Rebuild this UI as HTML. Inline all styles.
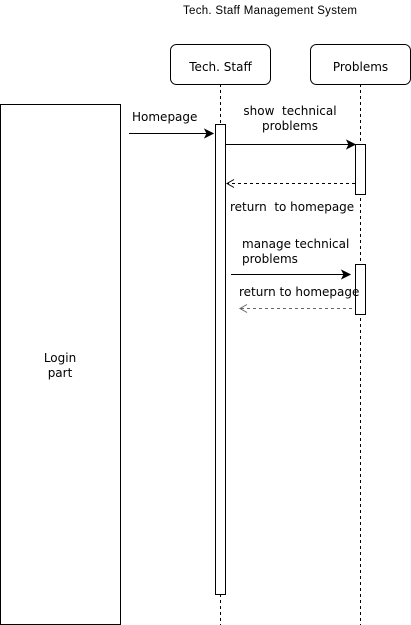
<!DOCTYPE html>
<html><head><meta charset="utf-8"><style>
html,body{margin:0;padding:0;background:#fff;}
svg{display:block;font-family:"DejaVu Sans",Verdana,sans-serif;}
text{white-space:pre;}
</style></head><body>
<svg width="411" height="625" viewBox="0 0 411 625" xmlns="http://www.w3.org/2000/svg">
<text x="183" y="14" font-size="11.5" textLength="174" fill="#000" font-family="Liberation Sans, Arial, sans-serif">Tech. Staff Management System</text>
<!-- lifelines -->
<line x1="220.5" y1="84" x2="220.5" y2="625" stroke="#000" stroke-dasharray="3,3"/>
<line x1="360.5" y1="84" x2="360.5" y2="625" stroke="#000" stroke-dasharray="3,3"/>
<!-- participant boxes -->
<rect x="170.5" y="44.5" width="100" height="40" rx="6" fill="#fff" stroke="#000"/>
<text x="220.5" y="71" font-size="12" text-anchor="middle">Tech. Staff</text>
<rect x="310.5" y="44.5" width="100" height="40" rx="6" fill="#fff" stroke="#000"/>
<text x="360.5" y="71" font-size="12" text-anchor="middle">Problems</text>
<!-- login -->
<rect x="0.5" y="104.5" width="120" height="520" fill="#fff" stroke="#000"/>
<text x="60" y="362" font-size="12" text-anchor="middle">Login</text>
<text x="60" y="377" font-size="12" text-anchor="middle">part</text>
<!-- activations -->
<rect x="215.5" y="124.5" width="10" height="470" fill="#fff" stroke="#000"/>
<rect x="355.5" y="144.5" width="10" height="50" fill="#fff" stroke="#000"/>
<rect x="355.5" y="264.5" width="10" height="50" fill="#fff" stroke="#000"/>
<!-- homepage -->
<text x="132" y="121" font-size="12">Homepage</text>
<line x1="129" y1="133.5" x2="207" y2="133.5" stroke="#000"/>
<polygon points="213,133.5 205,129.5 207,133.5 205,137.5" fill="#000" stroke="#000"/>
<!-- show -->
<text x="290" y="115" font-size="12" text-anchor="middle">show  technical</text>
<text x="290" y="130" font-size="12" text-anchor="middle">problems</text>
<line x1="225" y1="144.5" x2="349" y2="144.5" stroke="#000"/>
<polygon points="355,144.5 347,140.5 349,144.5 347,148.5" fill="#000" stroke="#000"/>
<!-- return 1 -->
<line x1="355" y1="183.5" x2="227" y2="183.5" stroke="#000" stroke-dasharray="3,3"/>
<polyline points="234,179.5 227,183.5 234,187.5" fill="none" stroke="#000"/>
<text x="230" y="211" font-size="12">return  to homepage</text>
<!-- manage -->
<text x="242" y="248" font-size="12">manage technical</text>
<text x="242" y="263" font-size="12">problems</text>
<line x1="231" y1="274.5" x2="344" y2="274.5" stroke="#000"/>
<polygon points="350,274.5 342,270.5 344,274.5 342,278.5" fill="#000" stroke="#000"/>
<!-- return 2 -->
<text x="239" y="296" font-size="12">return to homepage</text>
<line x1="352" y1="308.5" x2="240" y2="308.5" stroke="#666" stroke-dasharray="3,3"/>
<polyline points="247,304.5 240,308.5 247,312.5" fill="none" stroke="#666"/>
</svg>
</body></html>
